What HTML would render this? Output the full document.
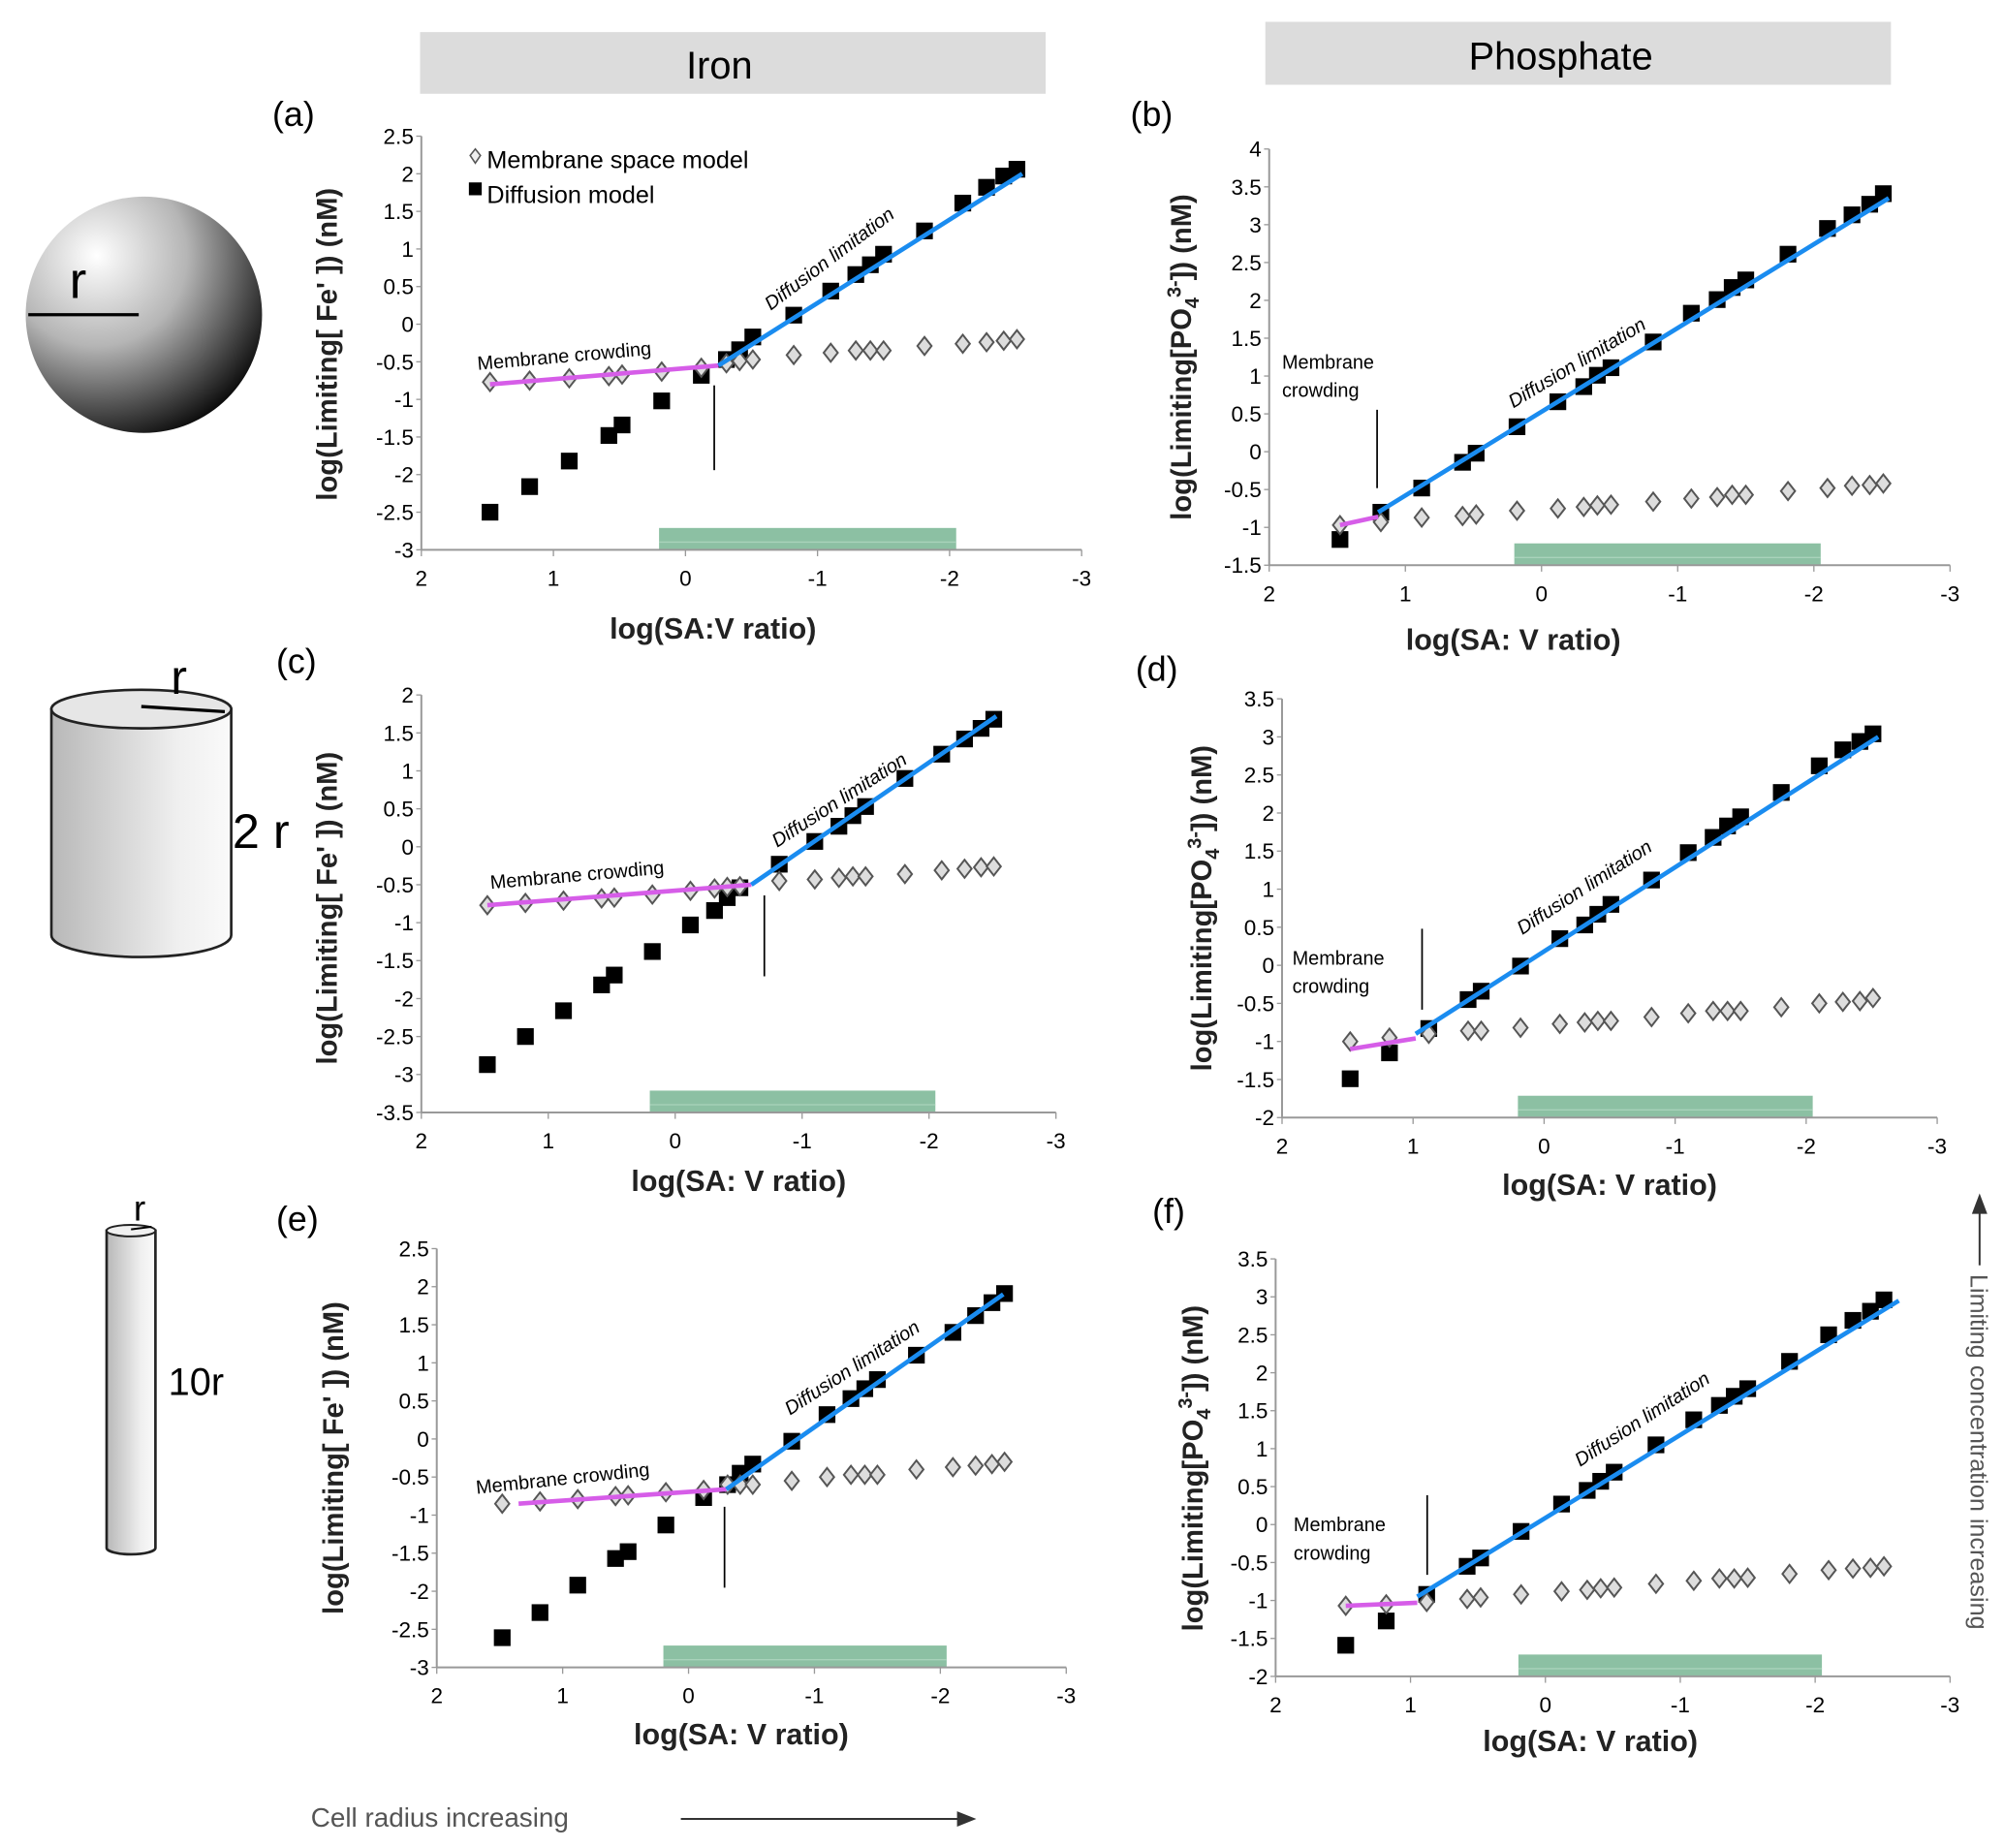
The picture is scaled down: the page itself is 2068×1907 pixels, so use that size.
<!DOCTYPE html>
<html><head><meta charset="utf-8">
<style>
html,body{margin:0;padding:0;background:#fff;}
svg{display:block;font-family:"Liberation Sans",Arial,sans-serif;}
</style></head>
<body>
<svg id="fig" width="2068" height="1907" viewBox="0 0 1560 1438.6" preserveAspectRatio="none" xmlns="http://www.w3.org/2000/svg">
<defs>
<radialGradient id="sph" cx="0.3" cy="0.25" r="0.85">
<stop offset="0" stop-color="#fff"/><stop offset="0.45" stop-color="#b5b5b5"/><stop offset="1" stop-color="#000"/>
</radialGradient>
<linearGradient id="cyl" x1="0" x2="1" y1="0" y2="0">
<stop offset="0" stop-color="#b8b8b8"/><stop offset="0.7" stop-color="#efefef"/><stop offset="1" stop-color="#fafafa"/>
</linearGradient>
</defs>
<!-- headers -->
<rect x="327" y="25" width="487" height="48" fill="#dcdcdc"/>
<text x="560" y="61" font-size="30" text-anchor="middle">Iron</text>
<rect x="985" y="17" width="487" height="49" fill="#dcdcdc"/>
<text x="1215" y="54" font-size="30" text-anchor="middle">Phosphate</text>
<!-- sphere -->
<g>
<circle cx="112" cy="245" r="92" fill="url(#sph)"/>
<line x1="22" y1="245" x2="108" y2="245" stroke="#000" stroke-width="2.5"/>
<text x="54" y="232" font-size="40">r</text>
</g>
<!-- cylinder -->
<g>
<path d="M40 552 L40 728 A70 17 0 0 0 180 728 L180 552 Z" fill="url(#cyl)" stroke="#222" stroke-width="2"/>
<ellipse cx="110" cy="552" rx="70" ry="15" fill="#e6e6e6" stroke="#222" stroke-width="2"/>
<line x1="110" y1="550" x2="175" y2="554" stroke="#000" stroke-width="2.5"/>
<text x="133" y="540" font-size="38">r</text>
<text x="181" y="660" font-size="38">2 r</text>
</g>
<!-- thin rod -->
<g>
<path d="M83 958 L83 1205 A19 5 0 0 0 121 1205 L121 958 Z" fill="url(#cyl)" stroke="#222" stroke-width="2"/>
<ellipse cx="102" cy="958" rx="19" ry="4.5" fill="#f0f0f0" stroke="#222" stroke-width="1.5"/>
<line x1="102" y1="957" x2="118" y2="955" stroke="#000" stroke-width="1.5"/>
<text x="104" y="950" font-size="28">r</text>
<text x="131" y="1086" font-size="30">10r</text>
</g>
<!-- bottom arrow -->
<text x="242" y="1422" font-size="21" fill="#555">Cell radius increasing</text>
<g>
<line x1="530" y1="1416" x2="752" y2="1416" stroke="#333" stroke-width="1.5"/>
<path d="M760 1416 L745 1410 L745 1422 Z" fill="#333"/>
</g>
<!-- right arrow -->
<g>
<line x1="1541" y1="937" x2="1541" y2="985" stroke="#333" stroke-width="1.5"/>
<path d="M1541 929 L1535 945 L1547 945 Z" fill="#333"/>
</g>
<text transform="translate(1534,992) rotate(90)" font-size="19" fill="#555">Limiting  concentration increasing</text>
<g id="panels"></g>
</svg>
<script>
const xVals = [1.48,1.18,0.88,0.58,0.48,0.18,-0.12,-0.31,-0.41,-0.51,-0.82,-1.10,-1.29,-1.40,-1.50,-1.81,-2.10,-2.28,-2.41,-2.51];
const xTicks = [2,1,0,-1,-2,-3];
const sqA = [-2.5,-2.16,-1.82,-1.48,-1.34,-1.02,-0.68,-0.47,-0.34,-0.17,0.12,0.44,0.66,0.79,0.93,1.24,1.61,1.82,1.97,2.06];
const diA = [-0.77,-0.75,-0.72,-0.69,-0.67,-0.63,-0.58,-0.52,-0.49,-0.47,-0.41,-0.38,-0.35,-0.35,-0.35,-0.29,-0.26,-0.24,-0.22,-0.2];
const sqB = [-1.16,-0.8,-0.48,-0.14,-0.02,0.33,0.66,0.86,1.01,1.11,1.45,1.83,2.01,2.17,2.27,2.61,2.95,3.13,3.27,3.41];
const diB = [-0.97,-0.93,-0.87,-0.85,-0.83,-0.78,-0.75,-0.73,-0.71,-0.7,-0.66,-0.62,-0.6,-0.57,-0.57,-0.52,-0.48,-0.45,-0.44,-0.42];
const sqC = [-2.87,-2.5,-2.16,-1.82,-1.69,-1.38,-1.03,-0.84,-0.67,-0.54,-0.23,0.07,0.27,0.41,0.53,0.9,1.22,1.42,1.56,1.68];
const diC = [-0.77,-0.74,-0.71,-0.68,-0.67,-0.63,-0.58,-0.55,-0.53,-0.52,-0.45,-0.43,-0.41,-0.39,-0.39,-0.36,-0.31,-0.29,-0.27,-0.26];
const sqD = [-1.49,-1.15,-0.83,-0.45,-0.34,-0.01,0.35,0.53,0.67,0.8,1.12,1.48,1.68,1.83,1.95,2.27,2.62,2.83,2.94,3.04];
const diD = [-1.0,-0.95,-0.9,-0.86,-0.86,-0.82,-0.77,-0.75,-0.73,-0.73,-0.68,-0.63,-0.6,-0.6,-0.6,-0.55,-0.5,-0.48,-0.47,-0.43];
const sqE = [-2.61,-2.28,-1.92,-1.57,-1.48,-1.13,-0.77,-0.6,-0.45,-0.33,-0.03,0.32,0.53,0.66,0.78,1.1,1.4,1.62,1.79,1.91];
const diE = [-0.85,-0.82,-0.79,-0.75,-0.74,-0.7,-0.67,-0.6,-0.6,-0.6,-0.55,-0.5,-0.47,-0.47,-0.47,-0.4,-0.37,-0.35,-0.33,-0.3];
const sqF = [-1.59,-1.27,-0.92,-0.55,-0.44,-0.09,0.27,0.45,0.57,0.69,1.05,1.38,1.57,1.69,1.79,2.15,2.5,2.69,2.81,2.96];
const diF = [-1.07,-1.05,-1.02,-0.98,-0.96,-0.92,-0.88,-0.86,-0.84,-0.83,-0.78,-0.74,-0.71,-0.71,-0.7,-0.65,-0.6,-0.58,-0.57,-0.55];
const pinkA = [[1.48,-0.8],[-0.25,-0.55]]; const blueA = [[-0.25,-0.55],[-2.55,2.0]];
const pinkB = [[1.48,-0.97],[1.2,-0.86]]; const blueB = [[1.2,-0.8],[-2.55,3.35]];
const pinkC = [[1.48,-0.77],[-0.6,-0.5]]; const blueC = [[-0.6,-0.5],[-2.53,1.72]];
const pinkD = [[1.48,-1.1],[0.98,-0.96]]; const blueD = [[0.98,-0.9],[-2.55,3.0]];
const pinkE = [[1.35,-0.85],[-0.3,-0.66]]; const blueE = [[-0.3,-0.66],[-2.5,1.9]];
const pinkF = [[1.48,-1.07],[0.95,-1.03]]; const blueF = [[0.95,-0.95],[-2.62,2.95]];
const bandRange = [0.2,-2.05];
const yTicksA = [2.5,2,1.5,1,0.5,0,-0.5,-1,-1.5,-2,-2.5,-3];
const yTicksB = [4,3.5,3,2.5,2,1.5,1,0.5,0,-0.5,-1,-1.5];
const yTicksC = [2,1.5,1,0.5,0,-0.5,-1,-1.5,-2,-2.5,-3,-3.5];
const yTicksD = [3.5,3,2.5,2,1.5,1,0.5,0,-0.5,-1,-1.5,-2];
const yTicksE = yTicksA, yTicksF = yTicksD;

const NS='http://www.w3.org/2000/svg';
const root=document.getElementById('panels');
function mk(tag,attrs,parent){const e=document.createElementNS(NS,tag);for(const k in attrs)e.setAttribute(k,attrs[k]);(parent||root).appendChild(e);return e;}

const panels=[
 {id:'a',sq:sqA,di:diA,pink:pinkA,blue:blueA,yt:yTicksA,x0:328,x1:842,yt0:106,yt1:428,fe:true,letter:[212,98],ylab:[262,268],xlab:[555,497],xlt:'log(SA:V ratio)',vline:[556,300,366],
  mc:{x:372,y:288,r:-5},dl:{x:600,y:242,r:-37},legend:true},
 {id:'b',sq:sqB,di:diB,pink:pinkB,blue:blueB,yt:yTicksB,x0:988,x1:1518,yt0:116,yt1:440,fe:false,letter:[880,98],ylab:[927,278],xlab:[1178,506],xlt:'log(SA: V ratio)',vline:[1072,319,380],
  mc2:{x:998,y:287},dl:{x:1178,y:318,r:-31}},
 {id:'c',sq:sqC,di:diC,pink:pinkC,blue:blueC,yt:yTicksC,x0:328,x1:822,yt0:541,yt1:866,fe:true,letter:[215,524],ylab:[262,707],xlab:[575,927],xlt:'log(SA: V ratio)',vline:[595,697,760],
  mc:{x:382,y:692,r:-5},dl:{x:605,y:660,r:-33}},
 {id:'d',sq:sqD,di:diD,pink:pinkD,blue:blueD,yt:yTicksD,x0:998,x1:1508,yt0:544,yt1:870,fe:false,letter:[884,530],ylab:[943,707],xlab:[1253,930],xlt:'log(SA: V ratio)',vline:[1107,723,786],
  mc2:{x:1006,y:751},dl:{x:1185,y:728,r:-33}},
 {id:'e',sq:sqE,di:diE,pink:pinkE,blue:blueE,yt:yTicksE,x0:340,x1:830,yt0:972,yt1:1298,fe:true,letter:[215,958],ylab:[267,1135],xlab:[577,1358],xlt:'log(SA: V ratio)',vline:[564,1173,1236],
  mc:{x:371,y:1163,r:-6},dl:{x:615,y:1102,r:-33}},
 {id:'f',sq:sqF,di:diF,pink:pinkF,blue:blueF,yt:yTicksF,x0:993,x1:1518,yt0:980,yt1:1305,fe:false,letter:[897,952],ylab:[936,1143],xlab:[1238,1363],xlt:'log(SA: V ratio)',vline:[1111,1164,1226],
  mc2:{x:1007,y:1192},dl:{x:1230,y:1142,r:-33}}
];

panels.forEach(p=>{
 const g=mk('g',{});
 
 
 const yTop=p.yt[0], yBot=p.yt[p.yt.length-1];
 const X=v=>p.x0+(2-v)*(p.x1-p.x0)/5;
 const Y=v=>p.yt0+(yTop-v)*(p.yt1-p.yt0)/(yTop-yBot);
 // letter
 const lt=mk('text',{x:p.letter[0],y:p.letter[1],'font-size':27},g);lt.textContent='('+p.id+')';
 
 
 // band
 const band=mk('rect',{x:X(bandRange[0]),y:p.yt1-17,width:X(bandRange[1])-X(bandRange[0]),height:17,fill:'#8cc0a3'},g);
 
 
 mk('line',{x1:X(bandRange[0]),x2:X(bandRange[1]),y1:p.yt1-6,y2:p.yt1-6,stroke:'#a9d3bb','stroke-width':1},g);
 // axes
 const ya=mk('line',{x1:p.x0,x2:p.x0,y1:p.yt0,y2:p.yt1,stroke:'#999','stroke-width':1.5},g);
 
 
 const xa=mk('line',{x1:p.x0,x2:p.x1,y1:p.yt1,y2:p.yt1,stroke:'#999','stroke-width':1.5},g);
 
 
 p.yt.forEach(v=>{
  mk('line',{x1:p.x0-4,x2:p.x0,y1:Y(v),y2:Y(v),stroke:'#999'},g);
  const t=mk('text',{x:p.x0-6,y:Y(v)+6,'font-size':17,'text-anchor':'end'},g);t.textContent=String(v);
  
  
 });
 xTicks.forEach(v=>{
  mk('line',{x1:X(v),x2:X(v),y1:p.yt1,y2:p.yt1+5,stroke:'#999'},g);
  const t=mk('text',{x:X(v),y:p.yt1+28,'font-size':17,'text-anchor':'middle'},g);t.textContent=String(v);
  
  
 });
 // axis titles
 const xl=mk('text',{x:p.xlab[0],y:p.xlab[1],'font-size':23,'text-anchor':'middle','font-weight':'bold','fill':'#222'},g);xl.textContent=p.xlt;
 
 
 const yl=mk('text',{transform:`translate(${p.ylab[0]},${p.ylab[1]}) rotate(-90)`,'font-size':22,'text-anchor':'middle','font-weight':'bold','fill':'#222'},g);
 
 
 if(p.fe){yl.textContent="log(Limiting[ Fe' ]) (nM)";}
 else{
  const a=mk('tspan',{},yl);a.textContent='log(Limiting[PO';
  const b=mk('tspan',{'font-size':15,dy:6},yl);b.textContent='4';
  const c=mk('tspan',{'font-size':15,dy:-14},yl);c.textContent='3-';
  const d=mk('tspan',{dy:8},yl);d.textContent=']) (nM)';
 }
 // vertical marker
 const vl=mk('line',{x1:p.vline[0],x2:p.vline[0],y1:p.vline[1],y2:p.vline[2],stroke:'#000','stroke-width':1.3},g);
 
 
 // squares
 p.sq.forEach((v,i)=>{
  const r=mk('rect',{x:X(xVals[i])-6.5,y:Y(v)-6.5,width:13,height:13,fill:'#000'},g);
  
  
 });
 // diamonds
 p.di.forEach((v,i)=>{
  const cx=X(xVals[i]),cy=Y(v);
  const d=mk('path',{d:`M${cx} ${cy-7} L${cx+5.5} ${cy} L${cx} ${cy+7} L${cx-5.5} ${cy} Z`,fill:'#ddd',stroke:'#555','stroke-width':1.5},g);
  
  
 });
 // fit lines
 const pl=mk('line',{x1:X(p.pink[0][0]),y1:Y(p.pink[0][1]),x2:X(p.pink[1][0]),y2:Y(p.pink[1][1]),stroke:'#d65de8','stroke-width':3.5},g);
 
 
 const bl=mk('line',{x1:X(p.blue[0][0]),y1:Y(p.blue[0][1]),x2:X(p.blue[1][0]),y2:Y(p.blue[1][1]),stroke:'#1a8cf0','stroke-width':3.5},g);
 
 
 // annotations
 if(p.mc){const t=mk('text',{transform:`translate(${p.mc.x},${p.mc.y}) rotate(${p.mc.r})`,'font-size':15},g);t.textContent='Membrane crowding';
  
  }
 if(p.mc2){const t=mk('text',{x:p.mc2.x,y:p.mc2.y,'font-size':15},g);t.textContent='Membrane';
  
  
  const t2=mk('text',{x:p.mc2.x,y:p.mc2.y+22,'font-size':15},g);t2.textContent='crowding';
  
  }
 const dl=mk('text',{transform:`translate(${p.dl.x},${p.dl.y}) rotate(${p.dl.r})`,'font-size':15,'font-style':'italic'},g);dl.textContent='Diffusion limitation';
 
 
 if(p.legend){
  const lg=mk('g',{},g);
  
  
  mk('path',{d:'M370 116 L374 121 L370 127 L366 121 Z',fill:'#eee',stroke:'#555','stroke-width':1.2},lg);
  const a=mk('text',{x:379,y:131,'font-size':19},lg);a.textContent='Membrane  space model';
  mk('rect',{x:365,y:142,width:10,height:10,fill:'#000'},lg);
  const b=mk('text',{x:379,y:158,'font-size':19},lg);b.textContent='Diffusion  model';
 }
});
</script>
</body></html>
